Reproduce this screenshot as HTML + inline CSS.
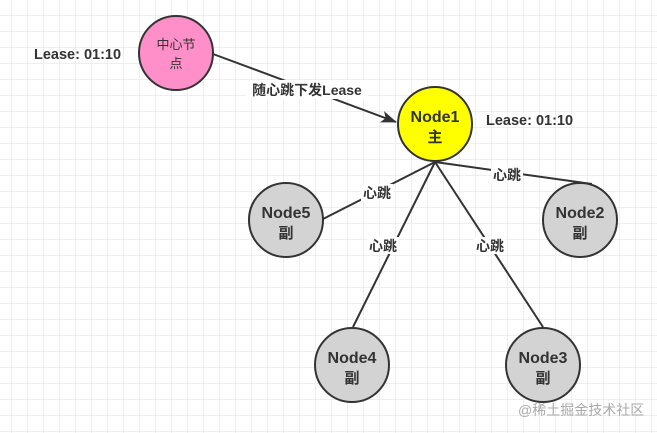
<!DOCTYPE html>
<html><head><meta charset="utf-8"><style>
html,body{margin:0;padding:0;background:#fff}
body{width:657px;height:433px;overflow:hidden;
background-image:linear-gradient(#eeeeee 1px,transparent 1px),linear-gradient(90deg,#eeeeee 1px,transparent 1px);
background-size:16px 16px;background-position:11px 15px;}
svg{position:absolute;left:0;top:0}
text{font-family:"Liberation Sans","Noto Sans CJK SC",sans-serif;font-weight:bold;fill:#333}
</style></head><body>
<svg width="657" height="433" viewBox="0 0 657 433">
<defs><marker id="a" markerWidth="16" markerHeight="12" refX="15" refY="6" orient="auto" markerUnits="userSpaceOnUse"><path d="M0,0 L16,6 L0,12 L4,6z" fill="#333"/></marker></defs>
<g stroke="#333" stroke-width="2" fill="none">
<line x1="213" y1="54" x2="396" y2="122" marker-end="url(#a)"/>
<line x1="435" y1="162" x2="323" y2="219"/>
<line x1="435" y1="162" x2="592" y2="184"/>
<line x1="435" y1="162" x2="353" y2="327"/>
<line x1="435" y1="162" x2="543" y2="327"/>
</g>
<g font-size="14" text-anchor="middle">
<rect x="246" y="80" width="122" height="19" fill="#fff"/>
<text x="307" y="95">随心跳下发Lease</text>
<rect x="361" y="184" width="32" height="17" fill="#fff"/><text x="377" y="198">心跳</text>
<rect x="491" y="166" width="32" height="17" fill="#fff"/><text x="507" y="180">心跳</text>
<rect x="367" y="237" width="32" height="17" fill="#fff"/><text x="383" y="251">心跳</text>
<rect x="474" y="237" width="32" height="17" fill="#fff"/><text x="490" y="251">心跳</text>
</g>
<g stroke="#333" stroke-width="2">
<circle cx="176" cy="53" r="37" fill="#ff8fc8"/>
<circle cx="435" cy="124" r="37" fill="#ffff00"/>
<circle cx="286" cy="220" r="37" fill="#d3d3d3"/>
<circle cx="580" cy="220" r="37" fill="#d3d3d3"/>
<circle cx="352" cy="365" r="37" fill="#d3d3d3"/>
<circle cx="543" cy="365" r="37" fill="#d3d3d3"/>
</g>
<g text-anchor="middle">
<text x="176" y="49" font-size="13" style="font-weight:normal">中心节</text>
<text x="176" y="68" font-size="13" style="font-weight:normal">点</text>
<text x="435" y="122" font-size="16">Node1</text><text x="435" y="142" font-size="15">主</text>
<text x="286" y="218" font-size="16">Node5</text><text x="286" y="238" font-size="15">副</text>
<text x="580" y="218" font-size="16">Node2</text><text x="580" y="238" font-size="15">副</text>
<text x="352" y="363" font-size="16">Node4</text><text x="352" y="383" font-size="15">副</text>
<text x="543" y="363" font-size="16">Node3</text><text x="543" y="383" font-size="15">副</text>
</g>
<text x="34" y="59" font-size="14.5">Lease: 01:10</text>
<text x="486" y="125" font-size="14.5">Lease: 01:10</text>
<text x="518" y="415" font-size="14" style="font-weight:normal;fill:#aaa">@稀土掘金技术社区</text>
</svg>
</body></html>
